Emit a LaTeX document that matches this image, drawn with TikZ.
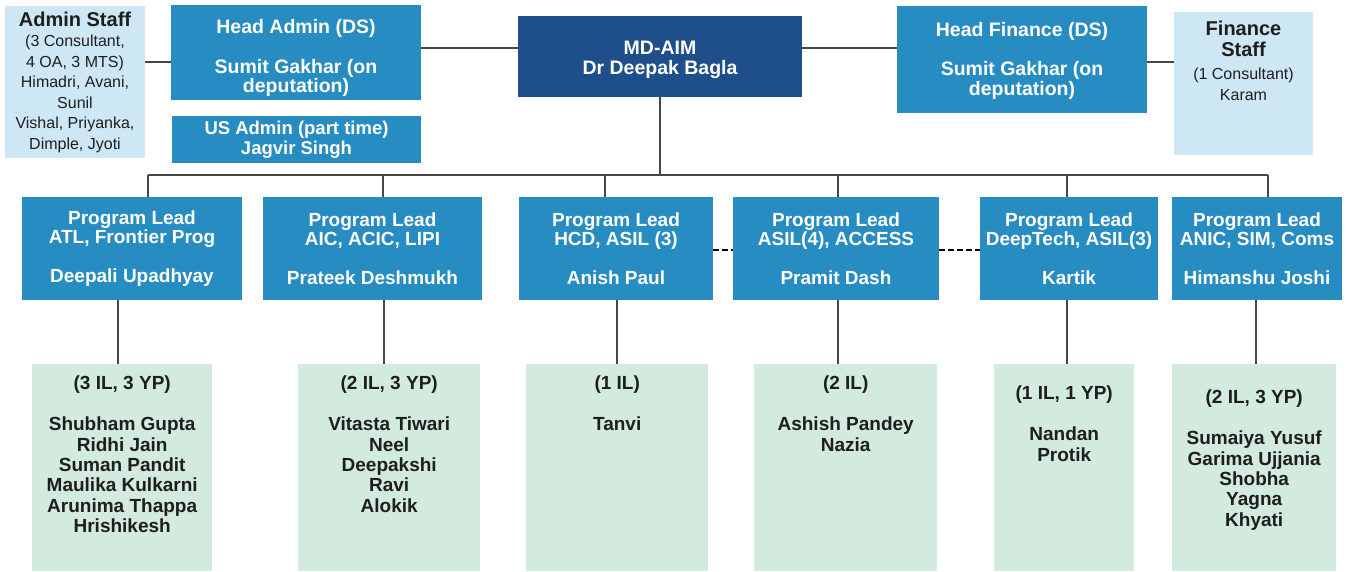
\documentclass[tikz,border=0pt]{standalone}
\usepackage{fontspec}
\setmainfont{Liberation Sans}
\usepackage{tikz}
\usetikzlibrary{positioning}
\definecolor{leadblue}{RGB}{39,140,194}
\definecolor{mdblue}{RGB}{30,79,139}
\definecolor{staffblue}{RGB}{206,231,244}
\definecolor{teamgreen}{RGB}{211,235,223}
\definecolor{linegray}{RGB}{70,70,70}
\definecolor{inkgray}{RGB}{30,30,30}
\newcommand{\staffhead}{\bfseries\fontsize{20}{20}\selectfont}

\begin{document}
\begin{tikzpicture}[x=1pt,y=-1pt,
	bluebox/.style={fill=leadblue,text=white,align=center,inner sep=0pt,font=\bfseries\fontsize{19.5}{19.5}\selectfont},
	mdbox/.style={bluebox,fill=mdblue},
	leadbox/.style={bluebox,minimum height=103pt,font=\bfseries\fontsize{19}{19.5}\selectfont},
	staffbox/.style={fill=staffblue,text=inkgray,align=center,inner sep=0pt,font=\fontsize{16}{20.5}\selectfont},
	teambox/.style={fill=teamgreen,inner sep=0pt,minimum height=207pt,anchor=north west},
	teamtext/.style={text=inkgray,align=center,inner sep=0pt,font=\bfseries\fontsize{19}{20.4}\selectfont},
	link/.style={draw=linegray,line width=1.3pt},
	peer/.style={draw=black,line width=2.5pt,dash pattern=on 6pt off 3pt}]
	\useasboundingbox (0,0) rectangle (1351,571);

	\node[staffbox,minimum width=140pt,minimum height=152pt] (adminstaff) at (75,82)
		{{\staffhead Admin Staff}\\(3 Consultant,\\4 OA, 3 MTS)\\Himadri, Avani,\\Sunil\\Vishal, Priyanka,\\Dimple, Jyoti};
	\node[bluebox,minimum width=250pt,minimum height=95pt] (headadmin) at (296,52.5)
		{\rule{0pt}{26pt}Head Admin (DS)\\[20pt]Sumit Gakhar (on\\deputation)};
	\node[bluebox,minimum width=249pt,minimum height=47pt,font=\bfseries\fontsize{18.5}{20}\selectfont] (usadmin) at (296.5,139.5)
		{US Admin (part time)\\Jagvir Singh};
	\node[mdbox,minimum width=284pt,minimum height=81pt] (md) at (660,56.5)
		{\rule{0pt}{20pt}MD-AIM\\Dr Deepak Bagla};
	\node[bluebox,minimum width=250pt,minimum height=107pt] (headfinance) at (1022,59.5)
		{\rule{0pt}{17pt}Head Finance (DS)\\[20pt]Sumit Gakhar (on\\deputation)};
	\node[staffbox,minimum width=139pt,minimum height=143pt] (financestaff) at (1243.5,83.5) {};
	\node[staffbox,anchor=north] (financetext) at (1243.5,21)
		{{\staffhead Finance}\\{\staffhead Staff}\\[3pt](1 Consultant)\\Karam};

	\draw[link] ([yshift=20pt]adminstaff.east) -- ([yshift=20pt]adminstaff.east -| headadmin.west);
	\draw[link] ([yshift=4.5pt]headadmin.east) -- ([yshift=4.5pt]headadmin.east -| md.west);
	\draw[link] ([yshift=8.5pt]md.east) -- ([yshift=8.5pt]md.east -| headfinance.west);
	\draw[link] ([yshift=-2.5pt]headfinance.east) -- ([yshift=-2.5pt]headfinance.east -| financestaff.west);

	\node[leadbox,minimum width=220pt] (lead1) at (132,248.5)
		{Program Lead\\ATL, Frontier Prog\\[19.5pt]Deepali Upadhyay};
	\node[leadbox,minimum width=219pt] (lead2) at (372.5,248.5)
		{Program Lead\\AIC, ACIC, LIPI\\[19.5pt]Prateek Deshmukh};
	\node[leadbox,minimum width=194pt] (lead3) at (616,248.5)
		{Program Lead\\HCD, ASIL (3)\\[19.5pt]Anish Paul};
	\node[leadbox,minimum width=206pt] (lead4) at (836,248.5)
		{Program Lead\\ASIL(4), ACCESS\\[19.5pt]Pramit Dash};
	\node[leadbox,minimum width=178pt] (lead5) at (1069,248.5)
		{Program Lead\\DeepTech, ASIL(3)\\[19.5pt]Kartik};
	\node[leadbox,minimum width=170pt] (lead6) at (1257,248.5)
		{Program Lead\\ANIC, SIM, Coms\\[19.5pt]Himanshu Joshi};

	\node[teambox,minimum width=180pt] (team1) at (32,364) {};
	\node[teambox,minimum width=182pt] (team2) at (298,364) {};
	\node[teambox,minimum width=182pt] (team3) at (526,364) {};
	\node[teambox,minimum width=183pt] (team4) at (754,364) {};
	\node[teambox,minimum width=140pt] (team5) at (994,364) {};
	\node[teambox,minimum width=164pt] (team6) at (1172,364) {};

	\node[teamtext,below=12pt of team1.north] (names1)
		{(3 IL, 3 YP)\\[20.4pt]Shubham Gupta\\Ridhi Jain\\Suman Pandit\\Maulika Kulkarni\\Arunima Thappa\\Hrishikesh};
	\node[teamtext,below=12pt of team2.north] (names2)
		{(2 IL, 3 YP)\\[20.4pt]Vitasta Tiwari\\Neel\\Deepakshi\\Ravi\\Alokik};
	\node[teamtext,below=12pt of team3.north] (names3)
		{(1 IL)\\[20.4pt]Tanvi};
	\node[teamtext,below=12pt of team4.north] (names4)
		{(2 IL)\\[20.4pt]Ashish Pandey\\Nazia};
	\node[teamtext,below=22pt of team5.north] (names5)
		{(1 IL, 1 YP)\\[20.4pt]Nandan\\Protik};
	\node[teamtext,below=26pt of team6.north] (names6)
		{(2 IL, 3 YP)\\[20.4pt]Sumaiya Yusuf\\Garima Ujjania\\Shobha\\Yagna\\Khyati};

	\foreach \i/\t/\d in {1/148/118,2/383/384,3/605/617,4/838/838,5/1067/1067,6/1268/1256}{
		\coordinate (tick\i) at (\t,175);
		\coordinate (drop\i) at (\d,0);
		\draw[link] (tick\i) -- (tick\i |- lead\i.north);
		\draw[link] (lead\i.south -| drop\i) -- (team\i.north -| drop\i);
	}
	\draw[link] (tick1) -- (tick6);
	\draw[link] (md.south) -- (md.south |- tick1);

	\draw[peer] ([yshift=-1.5pt]lead3.east) -- ([yshift=-1.5pt]lead4.west);
	\draw[peer] ([yshift=-1.5pt]lead4.east) -- ([yshift=-1.5pt]lead5.west);
\end{tikzpicture}
\end{document}
